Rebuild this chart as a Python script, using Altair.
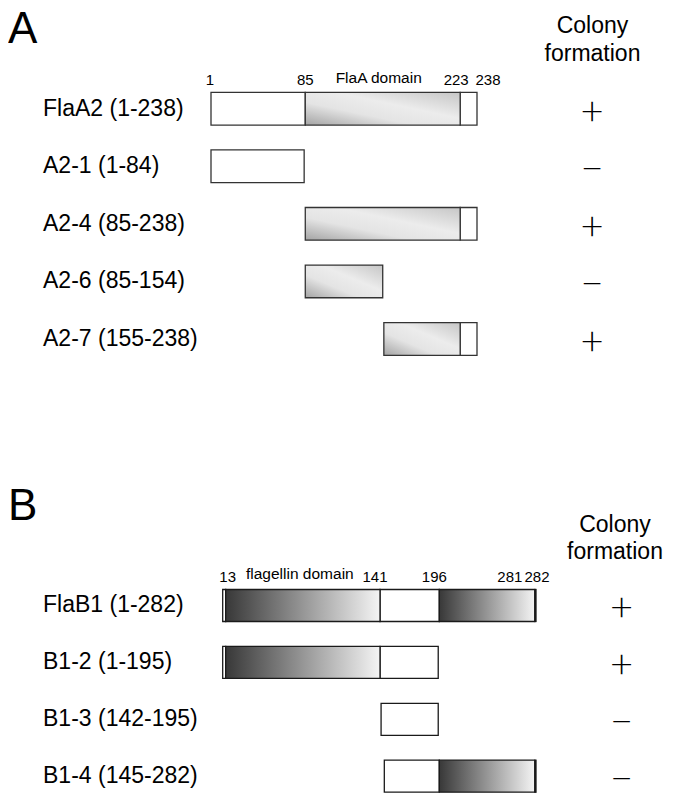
import altair as alt
import pandas as pd

# ---------------- Panel A data ----------------
a_constructs = ["FlaA2 (1-238)", "A2-1 (1-84)", "A2-4 (85-238)", "A2-6 (85-154)", "A2-7 (155-238)"]
a_colony = ["+", "\u2212", "+", "\u2212", "+"]
a_seg_row = [0, 0, 0, 1, 2, 2, 3, 4, 4]
a_seg_start = [1, 85, 223, 1, 85, 223, 85, 155, 223]
a_seg_end = [85, 223, 238, 84, 223, 238, 154, 223, 238]
a_seg_kind = ["plain", "domain", "plain", "plain", "domain", "plain", "domain", "domain", "plain"]
a_marks = ["1", "85", "223", "238"]
a_mark_pos = [1, 85, 223, 238]
a_domain_name = "FlaA domain"
a_domain_span = [85, 223]

# ---------------- Panel B data ----------------
b_constructs = ["FlaB1 (1-282)", "B1-2 (1-195)", "B1-3 (142-195)", "B1-4 (145-282)"]
b_colony = ["+", "+", "\u2212", "\u2212"]
b_seg_row = [0, 0, 0, 0, 0, 1, 1, 1, 2, 3, 3, 3]
b_seg_start = [1, 13, 141, 196, 281, 1, 13, 141, 142, 145, 196, 281]
b_seg_end = [13, 141, 196, 281, 282, 13, 141, 195, 195, 196, 281, 282]
b_seg_kind = ["plain", "domain", "plain", "domain", "end",
              "plain", "domain", "plain", "plain", "plain", "domain", "end"]
b_marks = ["13", "141", "196", "281", "282"]
b_mark_pos = [13, 141, 196, 281, 282]
b_domain_name = "flagellin domain"
b_domain_span = [13, 141]

# ---------------- styling ----------------
FONT = "Liberation Sans"
W = 657
grad_a = alt.LinearGradient(
    gradient="linear",
    stops=[alt.GradientStop(color="#a4a4a4", offset=0),
           alt.GradientStop(color="#e4e4e4", offset=0.35),
           alt.GradientStop(color="#ececec", offset=0.6),
           alt.GradientStop(color="#c6c6c6", offset=1)],
    x1=0, y1=1, x2=1, y2=0)
grad_b = alt.LinearGradient(
    gradient="linear",
    stops=[alt.GradientStop(color="#383838", offset=0),
           alt.GradientStop(color="#f4f4f4", offset=1)],
    x1=0, y1=0, x2=1, y2=0)


def panel(constructs, colony, seg_row, seg_start, seg_end, seg_kind,
          marks, mark_pos, mark_dx, dom_name, dom_span, dom_dx, dom_dy,
          letter, letter_y, xscale, yscale, col_x, col_y, col_lh, sign_x,
          grad, stroke, H):
    seg = pd.DataFrame({
        "construct": [constructs[i] for i in seg_row],
        "start": seg_start, "end": seg_end, "kind": seg_kind})
    rows = pd.DataFrame({"construct": constructs, "colony": colony})
    Y = alt.Y("construct:N", scale=yscale, axis=None)
    X = alt.X("start:Q", scale=xscale, axis=None)

    def seg_layer(kind, fill):
        return alt.Chart(seg).transform_filter(
            alt.datum.kind == kind
        ).mark_rect(fill=fill, stroke=stroke, strokeWidth=1.3, opacity=1).encode(
            x=X, x2="end:Q", y=Y)

    layers = [seg_layer("plain", "white"), seg_layer("domain", grad)]
    if "end" in seg_kind:
        layers.append(seg_layer("end", "#111111"))

    layers.append(alt.Chart(rows).mark_text(
        align="left", baseline="middle", fontSize=23, font=FONT, color="black"
    ).encode(x=alt.value(35), y=Y, text="construct:N"))

    layers.append(alt.Chart(rows).mark_text(
        align="center", baseline="middle", fontSize=40, font="Lato",
        fontWeight=300, dy=4, color="black"
    ).encode(x=alt.value(sign_x), y=Y, text="colony:N"))

    for t, p, d in zip(marks, mark_pos, mark_dx):
        df = pd.DataFrame({"construct": [constructs[0]], "pos": [p], "label": [t]})
        layers.append(alt.Chart(df).mark_text(
            align="center", baseline="alphabetic", fontSize=15, font=FONT,
            dx=d, dy=-23.7, color="black"
        ).encode(x=alt.X("pos:Q", scale=xscale, axis=None), y=Y, text="label:N"))

    ddf = pd.DataFrame({"construct": [constructs[0]],
                        "pos": [(dom_span[0] + dom_span[1]) / 2], "label": [dom_name]})
    layers.append(alt.Chart(ddf).mark_text(
        align="center", baseline="alphabetic", fontSize=15.5, font=FONT,
        dx=dom_dx, dy=dom_dy, color="black"
    ).encode(x=alt.X("pos:Q", scale=xscale, axis=None), y=Y, text="label:N"))

    layers.append(alt.Chart(pd.DataFrame({"t": [letter]})).mark_text(
        align="left", baseline="top", fontSize=44, font=FONT, color="black"
    ).encode(x=alt.value(0), y=alt.value(letter_y), text="t:N"))

    layers.append(alt.Chart(pd.DataFrame({"t": ["Colony\nformation"]})).mark_text(
        align="center", baseline="alphabetic", fontSize=23, font=FONT,
        lineBreak="\n", lineHeight=col_lh, color="black"
    ).encode(x=alt.value(col_x), y=alt.value(col_y), text="t:N"))

    return alt.layer(*layers).properties(width=W, height=H)


xscale_a = alt.Scale(domain=[1, 238], range=[203, 469], nice=False, zero=False)
yscale_a = alt.Scale(type="band", domain=a_constructs, range=[84.4, 347.3],
                     paddingInner=0.432, paddingOuter=0)
xscale_b = alt.Scale(domain=[1, 13, 141, 196, 282],
                     range=[214.7, 217.7, 372, 431.3, 528], nice=False, zero=False)
yscale_b = alt.Scale(type="band", domain=b_constructs, range=[141.5, 344.2],
                     paddingInner=0.438, paddingOuter=0)

pa = panel(a_constructs, a_colony, a_seg_row, a_seg_start, a_seg_end, a_seg_kind,
           a_marks, a_mark_pos, [-1, 0, -4, 11], a_domain_name, a_domain_span, -4, -25.7,
           "A", 0, xscale_a, yscale_a, 584.5, 25.3, 28, 584, grad_a, "#333333", 440)
pb = panel(b_constructs, b_colony, b_seg_row, b_seg_start, b_seg_end, b_seg_kind,
           b_marks, b_mark_pos, [2, -5, -5, -25, 1], b_domain_name, b_domain_span, -3, -26.7,
           "B", 37, xscale_b, yscale_b, 607, 84.3, 27, 613.7, grad_b, "#1a1a1a", 345)

chart = alt.vconcat(pa, pb, spacing=0).resolve_scale(
    x="independent", y="independent"
).properties(padding=0, background="white").configure_view(stroke=None)

chart.save("out.html", embed_options={"renderer": "svg", "actions": False})
